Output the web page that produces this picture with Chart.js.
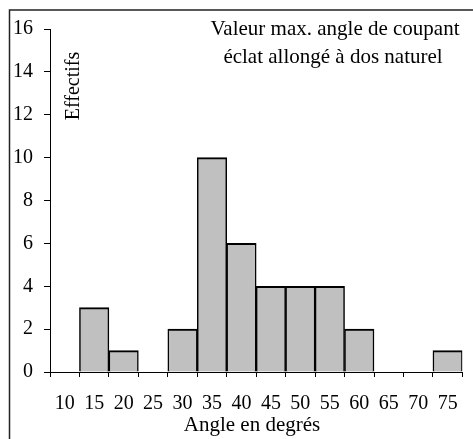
<!DOCTYPE html>
<html>
<head>
<meta charset="utf-8">
<script src="https://cdn.jsdelivr.net/npm/chart.js@4"></script>
<style>
  body { margin: 0; background: #fff; }
  canvas { display: block; }
</style>
</head>
<body>
<canvas id="chart" width="473" height="439"></canvas>
<script>
// classes d'angle (degrés) et effectifs
const angles = ["10", "15", "20", "25", "30", "35", "40", "45", "50", "55", "60", "65", "70", "75"];
const effectifs = [0, 3, 1, 0, 2, 10, 6, 4, 4, 4, 2, 0, 0, 1];
const titleLines = ["Valeur max. angle de coupant", "éclat allongé à dos naturel"];
const yLabel = "Effectifs";
const xLabel = "Angle en degrés";

const FONT = "Liberation Serif";

// cadre + textes dans la zone du graphe
const extras = {
    id: "extras",
    beforeDraw(chart) {
        const ctx = chart.ctx;
        ctx.save();
        ctx.fillStyle = "#fff";
        ctx.fillRect(0, 0, chart.width, chart.height);
        ctx.strokeStyle = "#222";
        ctx.lineWidth = 1.5;
        ctx.strokeRect(9.5, 10, chart.width + 20, chart.height + 20);
        ctx.restore();
    },
    afterDraw(chart) {
        const ctx = chart.ctx;
        ctx.save();
        ctx.fillStyle = "#000";
        ctx.textAlign = "center";
        ctx.textBaseline = "middle";
        ctx.font = "21px '" + FONT + "'";
        ctx.fillText(titleLines[0], 335, 29);
        ctx.fillText(titleLines[1], 333, 57);
        // titre axe x
        ctx.fillText(xLabel, 252, 425);
        ctx.font = "20px '" + FONT + "'";
        ctx.translate(74, 86);
        ctx.rotate(-Math.PI / 2);
        ctx.fillText(yLabel, 0, 0);
        ctx.restore();
    }
};

let ctx = document.getElementById("chart").getContext("2d");
let myChart = new Chart(ctx, {
    type: "bar",
    data: {
        labels: angles,
        datasets: [{
            data: effectifs,
            backgroundColor: "#c0c0c0",
            borderColor: "#000",
            borderWidth: { top: 2, left: 1.5, right: 1.5, bottom: 0 },
            barPercentage: 1,
            categoryPercentage: 1
        }]
    },
    options: {
        responsive: false,
        animation: false,
        layout: { padding: { top: 29, right: 10, bottom: 0, left: 0 } },
        plugins: {
            legend: { display: false },
            tooltip: { enabled: false }
        },
        scales: {
            x: {
                grid: {
                    offset: true,
                    drawOnChartArea: false,
                    drawTicks: true,
                    tickLength: 5,
                    color: "#000"
                },
                border: { color: "#000", width: 1 },
                ticks: {
                    color: "#000",
                    font: { family: FONT, size: 20 },
                    padding: 15,
                    maxRotation: 0,
                    autoSkip: false
                },
                afterFit(scale) { scale.height = 67; }
            },
            y: {
                min: 0,
                max: 16,
                ticks: {
                    stepSize: 2,
                    color: "#000",
                    font: { family: FONT, size: 20 },
                    padding: 11
                },
                grid: {
                    drawOnChartArea: false,
                    drawTicks: true,
                    tickLength: 6,
                    color: "#000"
                },
                border: { color: "#000", width: 1 },
                afterFit(scale) { scale.width = 50; }
            }
        }
    },
    plugins: [extras]
});
</script>
</body>
</html>
